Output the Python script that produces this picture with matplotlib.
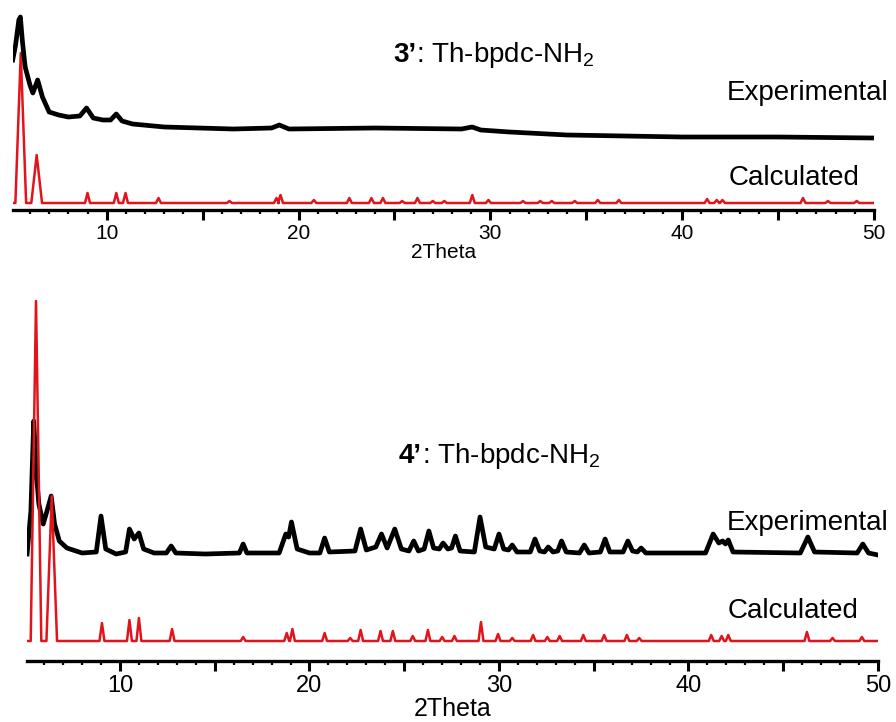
import numpy as np
import matplotlib
matplotlib.use("Agg")
import matplotlib.pyplot as plt
from matplotlib.ticker import MultipleLocator, FuncFormatter

plt.rcParams['font.family'] = ['Liberation Sans', 'DejaVu Sans']
plt.rcParams['mathtext.default'] = 'regular'

# ---- panel 3' (top) : heights in arbitrary counts ----
calc3_base = 7
calc3_pos = [5.52, 6.35, 9.0, 10.5, 10.98, 12.7, 16.4, 18.85, 19.06, 20.8, 22.65, 23.8, 24.4,
             25.4, 26.2, 27.0, 27.6, 29.06, 29.9, 31.7, 32.6, 33.2, 34.4, 35.6, 36.7, 41.3,
             41.8, 42.1, 46.3, 47.6, 49.1]
calc3_int = [150, 48, 10, 10, 10, 5, 2, 5, 8, 3, 5, 5, 5,
             2, 5, 2, 2, 8, 3, 2, 2, 2, 2, 3, 3, 4,
             3, 3, 5, 2, 2]

exp3 = [(5.1, 150), (5.25, 165), (5.42, 190), (5.5, 193), (5.6, 170), (5.75, 143), (6.0, 125),
        (6.15, 117), (6.4, 130), (6.65, 113), (7.0, 98), (7.5, 95), (8.0, 93), (8.6, 94),
        (8.95, 102), (9.3, 92), (9.8, 90), (10.2, 90), (10.5, 96), (10.8, 89), (11.35, 86),
        (13.0, 83), (16.6, 81), (18.6, 82), (19.0, 85), (19.5, 81), (24.0, 82), (28.5, 81),
        (29.05, 83), (29.5, 80), (31.0, 78), (34.0, 75), (37.0, 74), (40.0, 73), (45.0, 73),
        (50.0, 72)]

# ---- panel 4' (bottom) ----
calc4_base = 20
calc4_pos = [5.57, 6.4, 9.05, 10.5, 11.0, 12.75, 16.5, 18.8, 19.1, 20.8, 22.15, 22.7, 23.75,
             24.4, 25.45, 26.25, 27.0, 27.65, 29.05, 29.95, 30.7, 31.8, 32.55, 33.2, 34.45,
             35.55, 36.75, 37.4, 41.2, 41.75, 42.1, 46.25, 47.6, 49.15]
calc4_int = [340, 145, 18, 21, 23, 12, 4, 8, 12, 8, 3, 11, 10,
             10, 5, 11, 4, 5, 19, 7, 3, 6, 4, 5, 6,
             6, 6, 3, 6, 5, 6, 9, 3, 4]

exp4 = [(5.1, 107), (5.3, 150), (5.45, 240), (5.6, 185), (5.72, 157), (5.95, 137), (6.15, 150),
        (6.37, 165), (6.55, 137), (6.8, 120), (7.2, 113), (8.0, 108), (8.75, 109), (9.0, 145),
        (9.25, 112), (9.8, 107), (10.3, 109), (10.5, 132), (10.75, 122), (11.0, 128), (11.25, 112),
        (11.8, 108), (12.45, 108), (12.7, 115), (12.95, 108), (14.5, 107), (16.3, 108), (16.5, 117),
        (16.7, 108), (18.4, 108), (18.75, 127), (18.9, 124), (19.05, 139), (19.35, 112), (20.0, 108),
        (20.55, 108), (20.8, 123), (21.05, 109), (22.4, 110), (22.7, 132), (23.0, 111), (23.5, 114),
        (23.8, 127), (24.1, 113), (24.5, 132), (24.85, 112), (25.25, 110), (25.5, 120), (25.75, 110),
        (26.05, 112), (26.3, 130), (26.55, 113), (26.85, 112), (27.05, 118), (27.3, 112), (27.5, 113),
        (27.7, 125), (27.95, 110), (28.7, 109), (29.0, 144), (29.3, 114), (29.75, 112), (30.0, 127),
        (30.25, 112), (30.5, 111), (30.7, 116), (30.95, 109), (31.65, 109), (31.9, 122), (32.15, 110),
        (32.4, 109), (32.6, 114), (32.85, 109), (33.1, 110), (33.3, 120), (33.55, 109), (34.25, 108),
        (34.5, 116), (34.75, 108), (35.35, 109), (35.6, 122), (35.85, 109), (36.55, 109), (36.8, 120),
        (37.05, 110), (37.3, 109), (37.5, 113), (37.75, 108), (40.9, 108), (41.3, 127), (41.6, 118),
        (41.8, 120), (41.95, 117), (42.1, 121), (42.35, 109), (45.9, 108), (46.3, 124), (46.65, 109),
        (48.9, 108), (49.2, 117), (49.5, 108), (50.0, 106)]

RED = '#e2141b'


def stick_profile(pos, inten, base, big_hw=0.28, small_hw=0.13):
    # polyline through foot - apex - foot of every peak
    xs, ys = [5.1], [base]
    for p, h in zip(pos, inten):
        hw = big_hw if h > 40 else small_hw
        xs += [p - hw, p, p + hw]
        ys += [base, base + h, base]
    xs.append(50.0)
    ys.append(base)
    return np.array(xs), np.array(ys)


def style_axis(ax, ymax, tick_fs, label_fs, labelpad):
    ax.set_xlim(5.1, 50)
    ax.set_ylim(0, ymax)
    for s in ['top', 'left', 'right']:
        ax.spines[s].set_visible(False)
    ax.spines['bottom'].set_linewidth(2.4)
    ax.yaxis.set_visible(False)
    ax.xaxis.set_major_locator(MultipleLocator(5))
    ax.xaxis.set_minor_locator(MultipleLocator(1))
    ax.xaxis.set_major_formatter(FuncFormatter(lambda v, p: '%d' % v if v % 10 == 0 else ''))
    ax.tick_params(axis='x', which='major', length=7, width=2.2, labelsize=tick_fs, pad=3)
    ax.tick_params(axis='x', which='minor', length=3, width=1.6)
    ax.set_xlabel('2Theta', fontsize=label_fs, labelpad=labelpad)
    ax.patch.set_alpha(0)


W, H = 896, 722
fig = plt.figure(figsize=(W / 100, H / 100), dpi=100)

# top panel
ax1 = fig.add_axes([12.7 / W, 1 - 210 / H, 861.3 / W, 200 / H])
x, y = stick_profile(calc3_pos, calc3_int, calc3_base)
ax1.plot(x, y, color=RED, lw=1.8)
e = np.array(exp3).T
ax1.plot(e[0], e[1], color='black', lw=3.4)
style_axis(ax1, 200, 15, 15, 0)

# bottom panel
ax2 = fig.add_axes([27.1 / W, 1 - 661 / H, 850.9 / W, 371 / H])
x, y = stick_profile(calc4_pos, calc4_int, calc4_base)
e = np.array(exp4).T
ax2.plot(e[0], e[1], color='black', lw=3.4)
ax2.plot(x, y, color=RED, lw=1.8)
style_axis(ax2, 371, 17, 18, 0)

# annotations (figure pixel positions)
def fig_xy(px, py):
    return px / W, 1 - py / H

fs = 20
fig.text(*fig_xy(416, 62), '3’', fontsize=fs, fontweight='bold', ha='right', va='baseline')
fig.text(*fig_xy(416, 62), ': Th-bpdc-NH$_2$', fontsize=fs, ha='left', va='baseline')
fig.text(*fig_xy(888, 100), 'Experimental', fontsize=fs, ha='right', va='baseline')
fig.text(*fig_xy(859, 185), 'Calculated', fontsize=fs, ha='right', va='baseline')

fig.text(*fig_xy(422, 463), '4’', fontsize=fs, fontweight='bold', ha='right', va='baseline')
fig.text(*fig_xy(422, 463), ': Th-bpdc-NH$_2$', fontsize=fs, ha='left', va='baseline')
fig.text(*fig_xy(888, 530), 'Experimental', fontsize=fs, ha='right', va='baseline')
fig.text(*fig_xy(858, 618), 'Calculated', fontsize=fs, ha='right', va='baseline')

fig.savefig('out.png', dpi=100)
